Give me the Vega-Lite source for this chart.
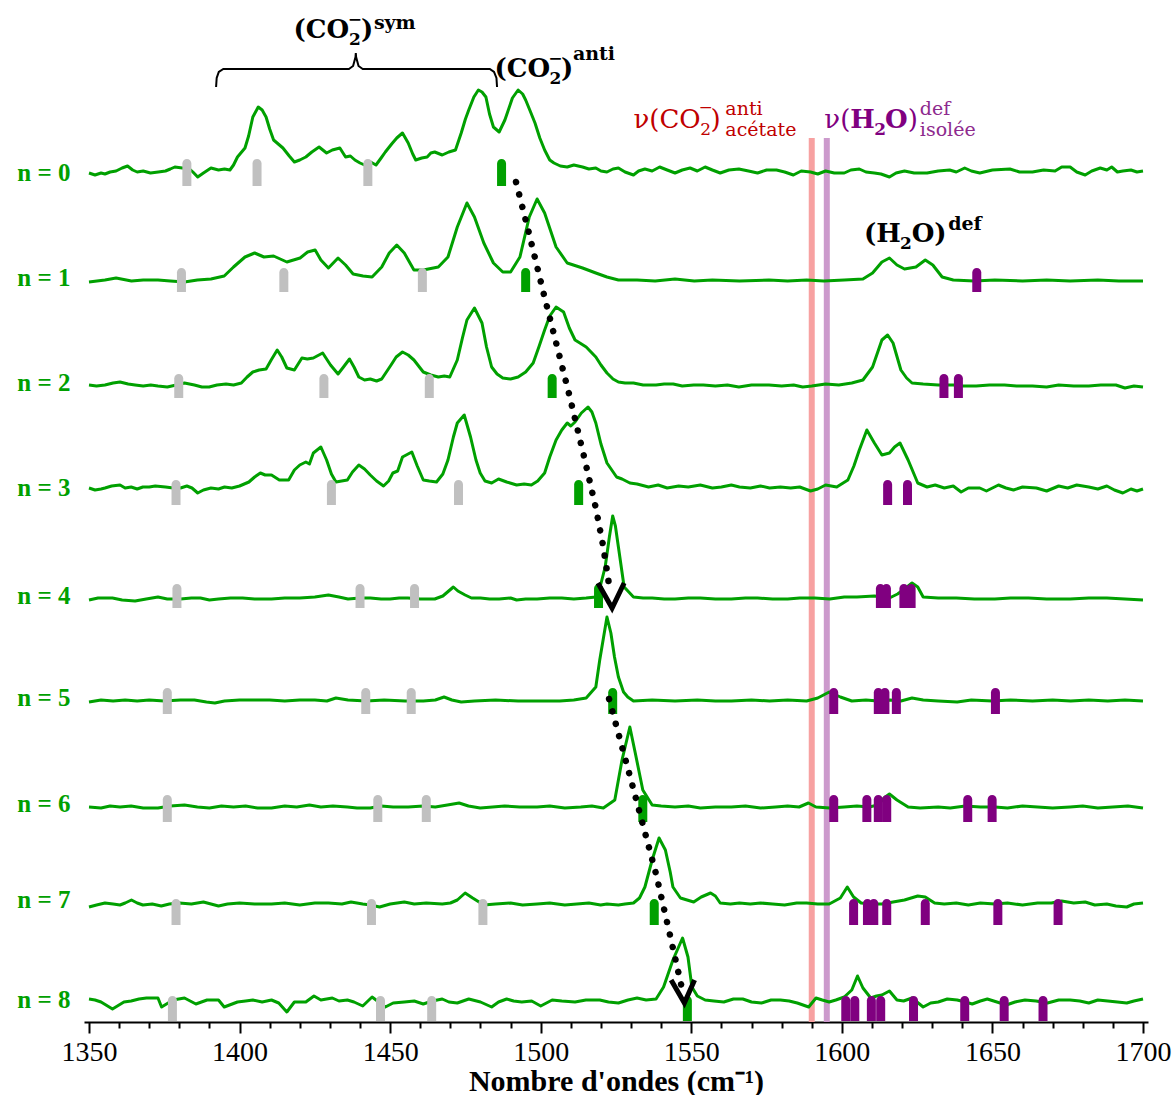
{
"$schema": "https://vega.github.io/schema/vega-lite/v6.json",
"width": 1064, "height": 1022,
"autosize": {"type": "none"},
"padding": {"left": 84, "top": 0, "right": 28, "bottom": 73},
"background": "white",
"config": {"view": {"stroke": null}},
"datasets": {
"spec": [
{"n":0,"x":1350,"y":849},{"n":0,"x":1352,"y":847},{"n":0,"x":1354,"y":849},{"n":0,"x":1355.3,"y":848},{"n":0,"x":1357,"y":850},{"n":0,"x":1359,"y":851},{"n":0,"x":1361,"y":854},{"n":0,"x":1362.8,"y":856},{"n":0,"x":1364.5,"y":852},{"n":0,"x":1366,"y":850},{"n":0,"x":1368,"y":851},{"n":0,"x":1370.4,"y":849},{"n":0,"x":1373,"y":850},{"n":0,"x":1375.4,"y":851},{"n":0,"x":1377,"y":853},{"n":0,"x":1378.5,"y":855},{"n":0,"x":1381,"y":854},{"n":0,"x":1383,"y":854},{"n":0,"x":1384.5,"y":850},{"n":0,"x":1386.1,"y":845},{"n":0,"x":1388,"y":849},{"n":0,"x":1390.5,"y":854},{"n":0,"x":1393,"y":852},{"n":0,"x":1395,"y":853},{"n":0,"x":1396.8,"y":852},{"n":0,"x":1398,"y":857},{"n":0,"x":1399.3,"y":865},{"n":0,"x":1401.8,"y":874},{"n":0,"x":1403,"y":886},{"n":0,"x":1404.4,"y":905},{"n":0,"x":1406.2,"y":915},{"n":0,"x":1407.5,"y":912},{"n":0,"x":1408.8,"y":905},{"n":0,"x":1410,"y":893},{"n":0,"x":1411.3,"y":882},{"n":0,"x":1414.4,"y":874},{"n":0,"x":1416.5,"y":866},{"n":0,"x":1418.2,"y":860},{"n":0,"x":1420,"y":862},{"n":0,"x":1422,"y":865},{"n":0,"x":1424,"y":870},{"n":0,"x":1426.4,"y":875},{"n":0,"x":1428.9,"y":869},{"n":0,"x":1430.8,"y":872},{"n":0,"x":1433.3,"y":874},{"n":0,"x":1435.2,"y":865},{"n":0,"x":1436.8,"y":866},{"n":0,"x":1438.3,"y":862},{"n":0,"x":1440,"y":859},{"n":0,"x":1441.5,"y":857},{"n":0,"x":1443.5,"y":860},{"n":0,"x":1445.3,"y":857},{"n":0,"x":1447,"y":864},{"n":0,"x":1448.4,"y":870},{"n":0,"x":1450.5,"y":878},{"n":0,"x":1452.2,"y":884},{"n":0,"x":1454.1,"y":889},{"n":0,"x":1456,"y":879},{"n":0,"x":1457.5,"y":868},{"n":0,"x":1458.5,"y":862},{"n":0,"x":1460.5,"y":864},{"n":0,"x":1462.3,"y":865},{"n":0,"x":1463.5,"y":869},{"n":0,"x":1464.8,"y":870},{"n":0,"x":1467.3,"y":867},{"n":0,"x":1469.5,"y":870},{"n":0,"x":1471.7,"y":872},{"n":0,"x":1473.6,"y":889},{"n":0,"x":1475,"y":903},{"n":0,"x":1476.1,"y":912},{"n":0,"x":1477.8,"y":925},{"n":0,"x":1479.3,"y":932},{"n":0,"x":1480.5,"y":930},{"n":0,"x":1481.8,"y":925},{"n":0,"x":1483,"y":908},{"n":0,"x":1484.3,"y":895},{"n":0,"x":1486.2,"y":890},{"n":0,"x":1488.1,"y":902},{"n":0,"x":1490.6,"y":924},{"n":0,"x":1492.5,"y":932},{"n":0,"x":1494,"y":928},{"n":0,"x":1495,"y":922},{"n":0,"x":1496.5,"y":911},{"n":0,"x":1498.1,"y":899},{"n":0,"x":1499.7,"y":884},{"n":0,"x":1501.3,"y":872},{"n":0,"x":1503,"y":862},{"n":0,"x":1504.4,"y":859},{"n":0,"x":1506.5,"y":856},{"n":0,"x":1508.8,"y":855},{"n":0,"x":1511,"y":857},{"n":0,"x":1513.9,"y":855},{"n":0,"x":1516,"y":853},{"n":0,"x":1518.3,"y":854},{"n":0,"x":1520,"y":851},{"n":0,"x":1522,"y":850},{"n":0,"x":1524,"y":853},{"n":0,"x":1525.8,"y":854},{"n":0,"x":1528,"y":850},{"n":0,"x":1530.8,"y":847},{"n":0,"x":1532.5,"y":851},{"n":0,"x":1534.6,"y":853},{"n":0,"x":1537,"y":851},{"n":0,"x":1539.5,"y":855},{"n":0,"x":1542,"y":852},{"n":0,"x":1544.6,"y":849},{"n":0,"x":1547,"y":852},{"n":0,"x":1549.6,"y":854},{"n":0,"x":1552,"y":851},{"n":0,"x":1554.6,"y":855},{"n":0,"x":1557,"y":852},{"n":0,"x":1559.6,"y":849},{"n":0,"x":1562.5,"y":852},{"n":0,"x":1565.8,"y":853},{"n":0,"x":1569,"y":851},{"n":0,"x":1572,"y":849},{"n":0,"x":1575,"y":852},{"n":0,"x":1578.3,"y":852},{"n":0,"x":1581,"y":850},{"n":0,"x":1583.9,"y":847},{"n":0,"x":1586.5,"y":851},{"n":0,"x":1589.6,"y":850},{"n":0,"x":1592,"y":848},{"n":0,"x":1594.6,"y":851},{"n":0,"x":1597.5,"y":849},{"n":0,"x":1600.8,"y":849},{"n":0,"x":1603,"y":852},{"n":0,"x":1605.8,"y":853},{"n":0,"x":1608,"y":850},{"n":0,"x":1610.8,"y":849},{"n":0,"x":1613,"y":848},{"n":0,"x":1615.8,"y":845},{"n":0,"x":1618,"y":849},{"n":0,"x":1620.8,"y":851},{"n":0,"x":1624,"y":849},{"n":0,"x":1628.3,"y":849},{"n":0,"x":1632,"y":851},{"n":0,"x":1635.8,"y":852},{"n":0,"x":1638,"y":850},{"n":0,"x":1640.8,"y":854},{"n":0,"x":1643,"y":851},{"n":0,"x":1645.8,"y":849},{"n":0,"x":1650,"y":852},{"n":0,"x":1655.8,"y":853},{"n":0,"x":1659,"y":850},{"n":0,"x":1663.3,"y":850},{"n":0,"x":1667,"y":852},{"n":0,"x":1670.8,"y":851},{"n":0,"x":1673,"y":855},{"n":0,"x":1675.8,"y":855},{"n":0,"x":1678,"y":850},{"n":0,"x":1680.8,"y":847},{"n":0,"x":1683,"y":851},{"n":0,"x":1685.8,"y":854},{"n":0,"x":1688,"y":852},{"n":0,"x":1689.6,"y":855},{"n":0,"x":1691.5,"y":850},{"n":0,"x":1693.3,"y":851},{"n":0,"x":1696,"y":852},{"n":0,"x":1698,"y":850},{"n":0,"x":1700,"y":851},
{"n":1,"x":1350,"y":740},{"n":1,"x":1355.3,"y":742},{"n":1,"x":1359,"y":744},{"n":1,"x":1364.1,"y":741},{"n":1,"x":1368,"y":742},{"n":1,"x":1372.9,"y":742},{"n":1,"x":1377,"y":741},{"n":1,"x":1381.7,"y":740},{"n":1,"x":1386,"y":742},{"n":1,"x":1390.5,"y":743},{"n":1,"x":1394.9,"y":746},{"n":1,"x":1398,"y":755},{"n":1,"x":1401.8,"y":765},{"n":1,"x":1405,"y":769},{"n":1,"x":1408.1,"y":765},{"n":1,"x":1411.3,"y":766},{"n":1,"x":1415.7,"y":760},{"n":1,"x":1420.1,"y":764},{"n":1,"x":1422.6,"y":770},{"n":1,"x":1425.1,"y":772},{"n":1,"x":1427,"y":762},{"n":1,"x":1429.5,"y":754},{"n":1,"x":1432.7,"y":764},{"n":1,"x":1435.2,"y":757},{"n":1,"x":1437.7,"y":748},{"n":1,"x":1441,"y":746},{"n":1,"x":1444,"y":745},{"n":1,"x":1447.2,"y":755},{"n":1,"x":1449.7,"y":769},{"n":1,"x":1452.2,"y":777},{"n":1,"x":1454.7,"y":769},{"n":1,"x":1457.9,"y":752},{"n":1,"x":1461,"y":752},{"n":1,"x":1466,"y":755},{"n":1,"x":1469.2,"y":765},{"n":1,"x":1472.3,"y":795},{"n":1,"x":1475.5,"y":819},{"n":1,"x":1478,"y":805},{"n":1,"x":1481.1,"y":779},{"n":1,"x":1484.3,"y":759},{"n":1,"x":1487.4,"y":750},{"n":1,"x":1490,"y":750},{"n":1,"x":1493.1,"y":765},{"n":1,"x":1496.2,"y":805},{"n":1,"x":1498.8,"y":823},{"n":1,"x":1501.3,"y":809},{"n":1,"x":1505.1,"y":775},{"n":1,"x":1508.8,"y":759},{"n":1,"x":1513.9,"y":754},{"n":1,"x":1518.3,"y":749},{"n":1,"x":1522,"y":745},{"n":1,"x":1525.8,"y":742},{"n":1,"x":1532,"y":742},{"n":1,"x":1538,"y":741},{"n":1,"x":1544.6,"y":743},{"n":1,"x":1551,"y":741},{"n":1,"x":1557,"y":742},{"n":1,"x":1566,"y":741},{"n":1,"x":1575.8,"y":742},{"n":1,"x":1582,"y":741},{"n":1,"x":1588.3,"y":742},{"n":1,"x":1594,"y":741},{"n":1,"x":1600.8,"y":742},{"n":1,"x":1607,"y":743},{"n":1,"x":1610.2,"y":749},{"n":1,"x":1613.3,"y":760},{"n":1,"x":1615.8,"y":764},{"n":1,"x":1618.3,"y":757},{"n":1,"x":1620.8,"y":753},{"n":1,"x":1624.6,"y":755},{"n":1,"x":1627.7,"y":762},{"n":1,"x":1630.2,"y":757},{"n":1,"x":1633.3,"y":745},{"n":1,"x":1637,"y":742},{"n":1,"x":1644,"y":741},{"n":1,"x":1650.8,"y":742},{"n":1,"x":1660,"y":741},{"n":1,"x":1668,"y":742},{"n":1,"x":1675.8,"y":741},{"n":1,"x":1685,"y":742},{"n":1,"x":1692,"y":741},{"n":1,"x":1700,"y":741},
{"n":2,"x":1350,"y":637},{"n":2,"x":1352.5,"y":636},{"n":2,"x":1355.3,"y":637},{"n":2,"x":1358,"y":639},{"n":2,"x":1360.3,"y":640},{"n":2,"x":1363,"y":638},{"n":2,"x":1365.3,"y":637},{"n":2,"x":1368,"y":636},{"n":2,"x":1370.5,"y":637},{"n":2,"x":1372.9,"y":636},{"n":2,"x":1376,"y":635},{"n":2,"x":1379,"y":637},{"n":2,"x":1381.7,"y":639},{"n":2,"x":1385,"y":637},{"n":2,"x":1387.5,"y":635},{"n":2,"x":1389.9,"y":635},{"n":2,"x":1392.5,"y":637},{"n":2,"x":1395.5,"y":638},{"n":2,"x":1398,"y":637},{"n":2,"x":1400.6,"y":639},{"n":2,"x":1402.5,"y":645},{"n":2,"x":1404.4,"y":650},{"n":2,"x":1406.5,"y":652},{"n":2,"x":1408.8,"y":653},{"n":2,"x":1410.5,"y":662},{"n":2,"x":1412.5,"y":672},{"n":2,"x":1414,"y":665},{"n":2,"x":1415.7,"y":654},{"n":2,"x":1418.2,"y":652},{"n":2,"x":1420.7,"y":664},{"n":2,"x":1422.5,"y":663},{"n":2,"x":1424.5,"y":664},{"n":2,"x":1427.6,"y":669},{"n":2,"x":1430.2,"y":657},{"n":2,"x":1432.7,"y":648},{"n":2,"x":1434.5,"y":655},{"n":2,"x":1436.5,"y":663},{"n":2,"x":1438,"y":655},{"n":2,"x":1439.6,"y":645},{"n":2,"x":1441.5,"y":642},{"n":2,"x":1443.4,"y":643},{"n":2,"x":1445.5,"y":641},{"n":2,"x":1447.2,"y":643},{"n":2,"x":1450.3,"y":657},{"n":2,"x":1452,"y":665},{"n":2,"x":1454.1,"y":670},{"n":2,"x":1456,"y":667},{"n":2,"x":1457.9,"y":662},{"n":2,"x":1461,"y":650},{"n":2,"x":1463.5,"y":647},{"n":2,"x":1466,"y":645},{"n":2,"x":1468,"y":646},{"n":2,"x":1469.8,"y":645},{"n":2,"x":1472.3,"y":662},{"n":2,"x":1474,"y":684},{"n":2,"x":1475.5,"y":702},{"n":2,"x":1478,"y":714},{"n":2,"x":1480.5,"y":699},{"n":2,"x":1482,"y":675},{"n":2,"x":1483.7,"y":655},{"n":2,"x":1485.5,"y":648},{"n":2,"x":1487.4,"y":644},{"n":2,"x":1490,"y":643},{"n":2,"x":1492.5,"y":645},{"n":2,"x":1495,"y":650},{"n":2,"x":1497.5,"y":659},{"n":2,"x":1499.5,"y":676},{"n":2,"x":1501.3,"y":692},{"n":2,"x":1503,"y":706},{"n":2,"x":1505.1,"y":715},{"n":2,"x":1507.6,"y":710},{"n":2,"x":1509.5,"y":694},{"n":2,"x":1511.4,"y":682},{"n":2,"x":1513,"y":679},{"n":2,"x":1515.1,"y":675},{"n":2,"x":1518.3,"y":665},{"n":2,"x":1520,"y":657},{"n":2,"x":1522,"y":649},{"n":2,"x":1524,"y":643},{"n":2,"x":1525.8,"y":640},{"n":2,"x":1528,"y":639},{"n":2,"x":1530.8,"y":639},{"n":2,"x":1534,"y":637},{"n":2,"x":1538.3,"y":637},{"n":2,"x":1541,"y":638},{"n":2,"x":1544,"y":638},{"n":2,"x":1547,"y":636},{"n":2,"x":1550.8,"y":637},{"n":2,"x":1554,"y":637},{"n":2,"x":1558,"y":636},{"n":2,"x":1562,"y":637},{"n":2,"x":1565.8,"y":635},{"n":2,"x":1570,"y":637},{"n":2,"x":1575.8,"y":637},{"n":2,"x":1580,"y":636},{"n":2,"x":1584,"y":637},{"n":2,"x":1587,"y":635},{"n":2,"x":1590,"y":636},{"n":2,"x":1594.6,"y":638},{"n":2,"x":1599,"y":637},{"n":2,"x":1603.3,"y":639},{"n":2,"x":1607,"y":642},{"n":2,"x":1610.2,"y":655},{"n":2,"x":1613.3,"y":682},{"n":2,"x":1615.2,"y":687},{"n":2,"x":1617,"y":679},{"n":2,"x":1619.6,"y":652},{"n":2,"x":1621.5,"y":644},{"n":2,"x":1623.3,"y":639},{"n":2,"x":1627,"y":638},{"n":2,"x":1632,"y":637},{"n":2,"x":1637,"y":637},{"n":2,"x":1640,"y":636},{"n":2,"x":1644.6,"y":636},{"n":2,"x":1649,"y":637},{"n":2,"x":1654,"y":637},{"n":2,"x":1658,"y":636},{"n":2,"x":1663.3,"y":636},{"n":2,"x":1668,"y":635},{"n":2,"x":1672,"y":637},{"n":2,"x":1677,"y":636},{"n":2,"x":1682,"y":636},{"n":2,"x":1686,"y":637},{"n":2,"x":1691,"y":637},{"n":2,"x":1694,"y":634},{"n":2,"x":1697,"y":636},{"n":2,"x":1700,"y":635},
{"n":3,"x":1350,"y":534},{"n":3,"x":1352,"y":532},{"n":3,"x":1354,"y":533},{"n":3,"x":1355.3,"y":534},{"n":3,"x":1357.5,"y":536},{"n":3,"x":1360.3,"y":537},{"n":3,"x":1362,"y":534},{"n":3,"x":1364,"y":535},{"n":3,"x":1366,"y":533},{"n":3,"x":1367.9,"y":535},{"n":3,"x":1370,"y":535},{"n":3,"x":1372,"y":536},{"n":3,"x":1375.4,"y":535},{"n":3,"x":1378,"y":534},{"n":3,"x":1380.4,"y":534},{"n":3,"x":1382.5,"y":536},{"n":3,"x":1384.2,"y":534},{"n":3,"x":1386.1,"y":529},{"n":3,"x":1388,"y":532},{"n":3,"x":1390.5,"y":534},{"n":3,"x":1393,"y":533},{"n":3,"x":1395,"y":535},{"n":3,"x":1397.4,"y":534},{"n":3,"x":1400,"y":536},{"n":3,"x":1403.1,"y":540},{"n":3,"x":1405,"y":545},{"n":3,"x":1406.9,"y":549},{"n":3,"x":1408.5,"y":547},{"n":3,"x":1410.6,"y":547},{"n":3,"x":1413.2,"y":542},{"n":3,"x":1416.3,"y":542},{"n":3,"x":1418.2,"y":552},{"n":3,"x":1420,"y":557},{"n":3,"x":1422,"y":560},{"n":3,"x":1423.2,"y":558},{"n":3,"x":1424.5,"y":569},{"n":3,"x":1427,"y":575},{"n":3,"x":1428.9,"y":562},{"n":3,"x":1430.5,"y":548},{"n":3,"x":1432,"y":540},{"n":3,"x":1435.8,"y":542},{"n":3,"x":1437.5,"y":550},{"n":3,"x":1439.6,"y":557},{"n":3,"x":1441.5,"y":553},{"n":3,"x":1443.4,"y":547},{"n":3,"x":1445.5,"y":541},{"n":3,"x":1447.8,"y":536},{"n":3,"x":1449.5,"y":541},{"n":3,"x":1450.9,"y":549},{"n":3,"x":1452.5,"y":551},{"n":3,"x":1454.1,"y":565},{"n":3,"x":1457.2,"y":570},{"n":3,"x":1459,"y":556},{"n":3,"x":1461,"y":542},{"n":3,"x":1463,"y":541},{"n":3,"x":1465.4,"y":540},{"n":3,"x":1467.5,"y":548},{"n":3,"x":1469.2,"y":562},{"n":3,"x":1471,"y":585},{"n":3,"x":1472.3,"y":599},{"n":3,"x":1474.6,"y":607},{"n":3,"x":1476.7,"y":585},{"n":3,"x":1478.5,"y":562},{"n":3,"x":1479.9,"y":549},{"n":3,"x":1481.5,"y":541},{"n":3,"x":1483.7,"y":539},{"n":3,"x":1486,"y":543},{"n":3,"x":1488.7,"y":540},{"n":3,"x":1492,"y":537},{"n":3,"x":1494.5,"y":538},{"n":3,"x":1496.9,"y":537},{"n":3,"x":1499,"y":541},{"n":3,"x":1501.3,"y":549},{"n":3,"x":1503,"y":565},{"n":3,"x":1505.1,"y":582},{"n":3,"x":1507,"y":592},{"n":3,"x":1508.8,"y":599},{"n":3,"x":1510,"y":596},{"n":3,"x":1511.4,"y":600},{"n":3,"x":1513.5,"y":609},{"n":3,"x":1515.7,"y":615},{"n":3,"x":1517,"y":610},{"n":3,"x":1518.3,"y":599},{"n":3,"x":1520,"y":578},{"n":3,"x":1522,"y":559},{"n":3,"x":1525.2,"y":545},{"n":3,"x":1527,"y":543},{"n":3,"x":1529.6,"y":539},{"n":3,"x":1532,"y":538},{"n":3,"x":1535.8,"y":535},{"n":3,"x":1539,"y":537},{"n":3,"x":1542,"y":534},{"n":3,"x":1545.8,"y":536},{"n":3,"x":1549,"y":535},{"n":3,"x":1553,"y":537},{"n":3,"x":1557,"y":534},{"n":3,"x":1560,"y":535},{"n":3,"x":1563.3,"y":537},{"n":3,"x":1566,"y":535},{"n":3,"x":1569.6,"y":534},{"n":3,"x":1573,"y":536},{"n":3,"x":1576,"y":534},{"n":3,"x":1579.6,"y":535},{"n":3,"x":1583,"y":534},{"n":3,"x":1586,"y":535},{"n":3,"x":1589.6,"y":531},{"n":3,"x":1592,"y":533},{"n":3,"x":1594.6,"y":537},{"n":3,"x":1598.3,"y":535},{"n":3,"x":1602,"y":542},{"n":3,"x":1604,"y":556},{"n":3,"x":1605.8,"y":572},{"n":3,"x":1608.3,"y":592},{"n":3,"x":1610.8,"y":579},{"n":3,"x":1613.3,"y":567},{"n":3,"x":1615.8,"y":569},{"n":3,"x":1617.5,"y":575},{"n":3,"x":1619.3,"y":579},{"n":3,"x":1622,"y":562},{"n":3,"x":1625.2,"y":539},{"n":3,"x":1628.3,"y":535},{"n":3,"x":1631,"y":537},{"n":3,"x":1634,"y":534},{"n":3,"x":1637,"y":536},{"n":3,"x":1639.6,"y":530},{"n":3,"x":1642,"y":534},{"n":3,"x":1645.8,"y":534},{"n":3,"x":1648,"y":531},{"n":3,"x":1652,"y":537},{"n":3,"x":1654.5,"y":534},{"n":3,"x":1657,"y":532},{"n":3,"x":1660,"y":535},{"n":3,"x":1664.6,"y":534},{"n":3,"x":1668,"y":531},{"n":3,"x":1672,"y":536},{"n":3,"x":1675,"y":534},{"n":3,"x":1678,"y":537},{"n":3,"x":1682,"y":535},{"n":3,"x":1685,"y":533},{"n":3,"x":1688,"y":536},{"n":3,"x":1690.5,"y":532},{"n":3,"x":1693.3,"y":529},{"n":3,"x":1696,"y":533},{"n":3,"x":1698,"y":531},{"n":3,"x":1700,"y":533},
{"n":4,"x":1350,"y":422},{"n":4,"x":1353,"y":424},{"n":4,"x":1357.8,"y":424},{"n":4,"x":1361,"y":422},{"n":4,"x":1365.3,"y":421},{"n":4,"x":1369,"y":423},{"n":4,"x":1372.9,"y":425},{"n":4,"x":1376,"y":423},{"n":4,"x":1380.4,"y":423},{"n":4,"x":1384,"y":424},{"n":4,"x":1387,"y":424},{"n":4,"x":1390,"y":422},{"n":4,"x":1393,"y":423},{"n":4,"x":1397,"y":424},{"n":4,"x":1401,"y":424},{"n":4,"x":1405,"y":423},{"n":4,"x":1410.6,"y":423},{"n":4,"x":1415,"y":424},{"n":4,"x":1420,"y":424},{"n":4,"x":1425,"y":425},{"n":4,"x":1429.5,"y":427},{"n":4,"x":1433,"y":425},{"n":4,"x":1436,"y":423},{"n":4,"x":1440,"y":424},{"n":4,"x":1443.4,"y":424},{"n":4,"x":1447,"y":423},{"n":4,"x":1450,"y":423},{"n":4,"x":1453,"y":424},{"n":4,"x":1455.9,"y":424},{"n":4,"x":1460,"y":423},{"n":4,"x":1464.8,"y":423},{"n":4,"x":1467.5,"y":426},{"n":4,"x":1471,"y":435},{"n":4,"x":1472.5,"y":431},{"n":4,"x":1474.9,"y":427},{"n":4,"x":1477,"y":424},{"n":4,"x":1480,"y":424},{"n":4,"x":1483,"y":423},{"n":4,"x":1486.2,"y":423},{"n":4,"x":1490,"y":424},{"n":4,"x":1492,"y":422},{"n":4,"x":1495,"y":423},{"n":4,"x":1498.8,"y":423},{"n":4,"x":1503,"y":424},{"n":4,"x":1507,"y":424},{"n":4,"x":1511,"y":423},{"n":4,"x":1515.1,"y":424},{"n":4,"x":1518.3,"y":425},{"n":4,"x":1519.8,"y":436},{"n":4,"x":1521.4,"y":455},{"n":4,"x":1522.8,"y":485},{"n":4,"x":1523.9,"y":506},{"n":4,"x":1524.8,"y":496},{"n":4,"x":1525.8,"y":475},{"n":4,"x":1527.7,"y":435},{"n":4,"x":1530.8,"y":425},{"n":4,"x":1534,"y":424},{"n":4,"x":1537,"y":424},{"n":4,"x":1541,"y":423},{"n":4,"x":1544.6,"y":423},{"n":4,"x":1549,"y":424},{"n":4,"x":1553,"y":424},{"n":4,"x":1558,"y":423},{"n":4,"x":1563.3,"y":423},{"n":4,"x":1568,"y":424},{"n":4,"x":1572,"y":424},{"n":4,"x":1577,"y":423},{"n":4,"x":1582,"y":423},{"n":4,"x":1586,"y":424},{"n":4,"x":1591,"y":424},{"n":4,"x":1596,"y":423},{"n":4,"x":1600.8,"y":425},{"n":4,"x":1605,"y":425},{"n":4,"x":1610.8,"y":426},{"n":4,"x":1615.8,"y":424},{"n":4,"x":1618.5,"y":428},{"n":4,"x":1620.8,"y":433},{"n":4,"x":1623.3,"y":439},{"n":4,"x":1625.2,"y":435},{"n":4,"x":1627,"y":425},{"n":4,"x":1632,"y":424},{"n":4,"x":1638,"y":424},{"n":4,"x":1644,"y":423},{"n":4,"x":1650.8,"y":423},{"n":4,"x":1656,"y":424},{"n":4,"x":1662,"y":424},{"n":4,"x":1668,"y":423},{"n":4,"x":1675.8,"y":423},{"n":4,"x":1682,"y":424},{"n":4,"x":1688,"y":424},{"n":4,"x":1694,"y":423},{"n":4,"x":1700,"y":422},
{"n":5,"x":1350,"y":320},{"n":5,"x":1354,"y":322},{"n":5,"x":1358,"y":321},{"n":5,"x":1362,"y":322},{"n":5,"x":1366,"y":321},{"n":5,"x":1370,"y":322},{"n":5,"x":1375,"y":321},{"n":5,"x":1380.4,"y":322},{"n":5,"x":1385,"y":322},{"n":5,"x":1389,"y":320},{"n":5,"x":1391.8,"y":319},{"n":5,"x":1395,"y":321},{"n":5,"x":1400,"y":322},{"n":5,"x":1404.4,"y":322},{"n":5,"x":1410,"y":322},{"n":5,"x":1415,"y":321},{"n":5,"x":1420,"y":322},{"n":5,"x":1425,"y":322},{"n":5,"x":1429,"y":321},{"n":5,"x":1432,"y":324},{"n":5,"x":1436,"y":322},{"n":5,"x":1442.1,"y":321},{"n":5,"x":1448,"y":322},{"n":5,"x":1455,"y":321},{"n":5,"x":1461,"y":321},{"n":5,"x":1465,"y":322},{"n":5,"x":1467.9,"y":325},{"n":5,"x":1470.5,"y":322},{"n":5,"x":1473.6,"y":320},{"n":5,"x":1478,"y":321},{"n":5,"x":1485,"y":322},{"n":5,"x":1492.5,"y":321},{"n":5,"x":1500,"y":321},{"n":5,"x":1506.3,"y":321},{"n":5,"x":1511,"y":322},{"n":5,"x":1515.1,"y":324},{"n":5,"x":1518.3,"y":335},{"n":5,"x":1519.6,"y":362},{"n":5,"x":1522,"y":405},{"n":5,"x":1523.3,"y":389},{"n":5,"x":1524.5,"y":365},{"n":5,"x":1525.8,"y":345},{"n":5,"x":1527.5,"y":330},{"n":5,"x":1528.9,"y":325},{"n":5,"x":1530.8,"y":321},{"n":5,"x":1537,"y":322},{"n":5,"x":1544.6,"y":321},{"n":5,"x":1552,"y":322},{"n":5,"x":1558,"y":321},{"n":5,"x":1563.3,"y":321},{"n":5,"x":1570,"y":322},{"n":5,"x":1576,"y":321},{"n":5,"x":1582,"y":322},{"n":5,"x":1588.3,"y":321},{"n":5,"x":1592,"y":324},{"n":5,"x":1595.8,"y":330},{"n":5,"x":1599.5,"y":325},{"n":5,"x":1603.3,"y":321},{"n":5,"x":1608,"y":322},{"n":5,"x":1612,"y":321},{"n":5,"x":1616,"y":322},{"n":5,"x":1619.6,"y":321},{"n":5,"x":1623.3,"y":324},{"n":5,"x":1627,"y":322},{"n":5,"x":1632,"y":321},{"n":5,"x":1638.3,"y":320},{"n":5,"x":1643,"y":322},{"n":5,"x":1650,"y":321},{"n":5,"x":1656,"y":322},{"n":5,"x":1663.3,"y":321},{"n":5,"x":1670,"y":322},{"n":5,"x":1676,"y":321},{"n":5,"x":1682,"y":322},{"n":5,"x":1688.3,"y":321},{"n":5,"x":1694,"y":322},{"n":5,"x":1700,"y":321},
{"n":6,"x":1350,"y":215},{"n":6,"x":1354,"y":214},{"n":6,"x":1357,"y":216},{"n":6,"x":1360.3,"y":215},{"n":6,"x":1364,"y":216},{"n":6,"x":1368,"y":214},{"n":6,"x":1372.9,"y":214},{"n":6,"x":1377,"y":216},{"n":6,"x":1381.7,"y":217},{"n":6,"x":1386,"y":215},{"n":6,"x":1390,"y":214},{"n":6,"x":1394,"y":216},{"n":6,"x":1398,"y":215},{"n":6,"x":1402,"y":216},{"n":6,"x":1406,"y":214},{"n":6,"x":1410.6,"y":214},{"n":6,"x":1415,"y":216},{"n":6,"x":1419,"y":215},{"n":6,"x":1423.2,"y":217},{"n":6,"x":1427,"y":215},{"n":6,"x":1431,"y":216},{"n":6,"x":1435.8,"y":215},{"n":6,"x":1439,"y":214},{"n":6,"x":1443.4,"y":214},{"n":6,"x":1447,"y":216},{"n":6,"x":1451,"y":215},{"n":6,"x":1456,"y":215},{"n":6,"x":1461,"y":216},{"n":6,"x":1465,"y":215},{"n":6,"x":1469,"y":217},{"n":6,"x":1472.9,"y":219},{"n":6,"x":1476,"y":216},{"n":6,"x":1479.9,"y":214},{"n":6,"x":1484,"y":215},{"n":6,"x":1488,"y":216},{"n":6,"x":1493,"y":215},{"n":6,"x":1498.8,"y":215},{"n":6,"x":1503,"y":216},{"n":6,"x":1508,"y":214},{"n":6,"x":1513.3,"y":215},{"n":6,"x":1517,"y":216},{"n":6,"x":1520.8,"y":214},{"n":6,"x":1524.6,"y":222},{"n":6,"x":1527,"y":262},{"n":6,"x":1529.6,"y":295},{"n":6,"x":1531.4,"y":269},{"n":6,"x":1533.9,"y":232},{"n":6,"x":1537,"y":217},{"n":6,"x":1540,"y":216},{"n":6,"x":1544.6,"y":215},{"n":6,"x":1549,"y":216},{"n":6,"x":1553,"y":214},{"n":6,"x":1558,"y":215},{"n":6,"x":1563.3,"y":215},{"n":6,"x":1568,"y":216},{"n":6,"x":1573,"y":214},{"n":6,"x":1578,"y":215},{"n":6,"x":1582,"y":216},{"n":6,"x":1585.8,"y":215},{"n":6,"x":1588.9,"y":219},{"n":6,"x":1591.4,"y":215},{"n":6,"x":1596,"y":214},{"n":6,"x":1600.8,"y":215},{"n":6,"x":1605,"y":216},{"n":6,"x":1609,"y":215},{"n":6,"x":1612.1,"y":217},{"n":6,"x":1614,"y":224},{"n":6,"x":1615.8,"y":228},{"n":6,"x":1618.3,"y":222},{"n":6,"x":1622,"y":215},{"n":6,"x":1626,"y":214},{"n":6,"x":1632,"y":215},{"n":6,"x":1636,"y":214},{"n":6,"x":1641,"y":216},{"n":6,"x":1646,"y":215},{"n":6,"x":1650.8,"y":215},{"n":6,"x":1655,"y":214},{"n":6,"x":1660,"y":216},{"n":6,"x":1665,"y":215},{"n":6,"x":1670,"y":214},{"n":6,"x":1675.8,"y":215},{"n":6,"x":1680,"y":216},{"n":6,"x":1685,"y":214},{"n":6,"x":1690,"y":215},{"n":6,"x":1695,"y":216},{"n":6,"x":1700,"y":214},
{"n":7,"x":1350,"y":115},{"n":7,"x":1352.5,"y":117},{"n":7,"x":1355.3,"y":119},{"n":7,"x":1358,"y":118},{"n":7,"x":1360.3,"y":117},{"n":7,"x":1362,"y":119},{"n":7,"x":1364.1,"y":122},{"n":7,"x":1366,"y":119},{"n":7,"x":1367.9,"y":117},{"n":7,"x":1371,"y":118},{"n":7,"x":1374,"y":116},{"n":7,"x":1376.7,"y":118},{"n":7,"x":1380,"y":119},{"n":7,"x":1384,"y":118},{"n":7,"x":1388,"y":120},{"n":7,"x":1390.5,"y":118},{"n":7,"x":1393,"y":116},{"n":7,"x":1396,"y":118},{"n":7,"x":1400,"y":119},{"n":7,"x":1405,"y":118},{"n":7,"x":1410.6,"y":118},{"n":7,"x":1415,"y":119},{"n":7,"x":1420,"y":117},{"n":7,"x":1425,"y":119},{"n":7,"x":1429.5,"y":119},{"n":7,"x":1434,"y":118},{"n":7,"x":1437,"y":120},{"n":7,"x":1440.9,"y":118},{"n":7,"x":1443.5,"y":117},{"n":7,"x":1446.5,"y":115},{"n":7,"x":1450,"y":118},{"n":7,"x":1454.7,"y":120},{"n":7,"x":1458,"y":118},{"n":7,"x":1462,"y":119},{"n":7,"x":1467.3,"y":118},{"n":7,"x":1470,"y":119},{"n":7,"x":1472.3,"y":122},{"n":7,"x":1474.9,"y":129},{"n":7,"x":1477.4,"y":124},{"n":7,"x":1481.1,"y":117},{"n":7,"x":1485,"y":118},{"n":7,"x":1490,"y":119},{"n":7,"x":1494,"y":117},{"n":7,"x":1498.8,"y":118},{"n":7,"x":1503,"y":119},{"n":7,"x":1508,"y":117},{"n":7,"x":1512,"y":118},{"n":7,"x":1516,"y":119},{"n":7,"x":1519.9,"y":117},{"n":7,"x":1522,"y":118},{"n":7,"x":1525.8,"y":117},{"n":7,"x":1528,"y":118},{"n":7,"x":1530.8,"y":119},{"n":7,"x":1532.8,"y":124},{"n":7,"x":1534.6,"y":135},{"n":7,"x":1537,"y":162},{"n":7,"x":1539.3,"y":184},{"n":7,"x":1541.4,"y":172},{"n":7,"x":1543,"y":150},{"n":7,"x":1543.9,"y":135},{"n":7,"x":1546.4,"y":124},{"n":7,"x":1550.8,"y":120},{"n":7,"x":1553.3,"y":125},{"n":7,"x":1556.4,"y":129},{"n":7,"x":1558,"y":126},{"n":7,"x":1559.6,"y":119},{"n":7,"x":1563,"y":118},{"n":7,"x":1566,"y":119},{"n":7,"x":1569.6,"y":118},{"n":7,"x":1573,"y":119},{"n":7,"x":1577,"y":118},{"n":7,"x":1581,"y":117},{"n":7,"x":1585,"y":119},{"n":7,"x":1588.3,"y":119},{"n":7,"x":1592,"y":118},{"n":7,"x":1595.8,"y":118},{"n":7,"x":1599.5,"y":124},{"n":7,"x":1601.8,"y":135},{"n":7,"x":1603.9,"y":125},{"n":7,"x":1606.4,"y":119},{"n":7,"x":1610,"y":118},{"n":7,"x":1613.3,"y":118},{"n":7,"x":1617,"y":120},{"n":7,"x":1620.8,"y":122},{"n":7,"x":1625.2,"y":126},{"n":7,"x":1627.7,"y":125},{"n":7,"x":1630.8,"y":119},{"n":7,"x":1634,"y":118},{"n":7,"x":1638,"y":119},{"n":7,"x":1642,"y":117},{"n":7,"x":1646,"y":119},{"n":7,"x":1650.8,"y":118},{"n":7,"x":1655,"y":119},{"n":7,"x":1660,"y":117},{"n":7,"x":1665,"y":119},{"n":7,"x":1669.6,"y":119},{"n":7,"x":1673,"y":121},{"n":7,"x":1677,"y":119},{"n":7,"x":1680.8,"y":120},{"n":7,"x":1684,"y":117},{"n":7,"x":1688,"y":118},{"n":7,"x":1691,"y":116},{"n":7,"x":1694.6,"y":115},{"n":7,"x":1697,"y":118},{"n":7,"x":1700,"y":119},
{"n":8,"x":1350,"y":23},{"n":8,"x":1352,"y":22},{"n":8,"x":1354,"y":20},{"n":8,"x":1357.8,"y":13},{"n":8,"x":1361.6,"y":20},{"n":8,"x":1364,"y":21},{"n":8,"x":1366.6,"y":23},{"n":8,"x":1369.1,"y":24},{"n":8,"x":1372.9,"y":24},{"n":8,"x":1374.1,"y":15},{"n":8,"x":1377.9,"y":22},{"n":8,"x":1381.7,"y":24},{"n":8,"x":1385.5,"y":18},{"n":8,"x":1389.2,"y":22},{"n":8,"x":1393,"y":22},{"n":8,"x":1394.9,"y":15},{"n":8,"x":1399.3,"y":20},{"n":8,"x":1402,"y":21},{"n":8,"x":1404.4,"y":22},{"n":8,"x":1407.5,"y":20},{"n":8,"x":1410.6,"y":22},{"n":8,"x":1413,"y":19},{"n":8,"x":1415.7,"y":10},{"n":8,"x":1418.2,"y":20},{"n":8,"x":1422,"y":20},{"n":8,"x":1424.7,"y":26},{"n":8,"x":1427,"y":22},{"n":8,"x":1430.8,"y":24},{"n":8,"x":1433,"y":21},{"n":8,"x":1435.8,"y":22},{"n":8,"x":1438,"y":20},{"n":8,"x":1440.9,"y":16},{"n":8,"x":1444,"y":25},{"n":8,"x":1448.4,"y":15},{"n":8,"x":1451,"y":19},{"n":8,"x":1454.7,"y":20},{"n":8,"x":1458,"y":21},{"n":8,"x":1461,"y":18},{"n":8,"x":1464,"y":21},{"n":8,"x":1467.3,"y":23},{"n":8,"x":1469.5,"y":20},{"n":8,"x":1472.3,"y":19},{"n":8,"x":1476.1,"y":23},{"n":8,"x":1480,"y":20},{"n":8,"x":1483.7,"y":15},{"n":8,"x":1486,"y":20},{"n":8,"x":1488.7,"y":23},{"n":8,"x":1491,"y":21},{"n":8,"x":1493.7,"y":20},{"n":8,"x":1497,"y":21},{"n":8,"x":1500,"y":16},{"n":8,"x":1503.8,"y":22},{"n":8,"x":1507,"y":21},{"n":8,"x":1511.4,"y":20},{"n":8,"x":1515,"y":22},{"n":8,"x":1519.6,"y":22},{"n":8,"x":1522.5,"y":20},{"n":8,"x":1525.8,"y":19},{"n":8,"x":1529,"y":22},{"n":8,"x":1532,"y":24},{"n":8,"x":1535,"y":22},{"n":8,"x":1538.3,"y":23},{"n":8,"x":1540.8,"y":35},{"n":8,"x":1543.9,"y":62},{"n":8,"x":1547.1,"y":84},{"n":8,"x":1548.9,"y":65},{"n":8,"x":1550.2,"y":35},{"n":8,"x":1552,"y":26},{"n":8,"x":1554.6,"y":22},{"n":8,"x":1557.5,"y":21},{"n":8,"x":1560.8,"y":20},{"n":8,"x":1564,"y":23},{"n":8,"x":1567.1,"y":23},{"n":8,"x":1570,"y":20},{"n":8,"x":1573.3,"y":19},{"n":8,"x":1576.5,"y":22},{"n":8,"x":1579.6,"y":22},{"n":8,"x":1582.5,"y":21},{"n":8,"x":1585.2,"y":19},{"n":8,"x":1589,"y":15},{"n":8,"x":1591.4,"y":24},{"n":8,"x":1593.5,"y":22},{"n":8,"x":1595.8,"y":20},{"n":8,"x":1598,"y":22},{"n":8,"x":1600.8,"y":25},{"n":8,"x":1603.3,"y":32},{"n":8,"x":1605.2,"y":46},{"n":8,"x":1607,"y":34},{"n":8,"x":1609.6,"y":24},{"n":8,"x":1611.5,"y":26},{"n":8,"x":1613.3,"y":27},{"n":8,"x":1615.8,"y":31},{"n":8,"x":1618.3,"y":22},{"n":8,"x":1620.5,"y":21},{"n":8,"x":1623.3,"y":24},{"n":8,"x":1627,"y":15},{"n":8,"x":1629.5,"y":19},{"n":8,"x":1632,"y":20},{"n":8,"x":1635,"y":23},{"n":8,"x":1638.3,"y":22},{"n":8,"x":1641,"y":20},{"n":8,"x":1643.3,"y":18},{"n":8,"x":1646,"y":21},{"n":8,"x":1648.3,"y":23},{"n":8,"x":1651.5,"y":20},{"n":8,"x":1654.6,"y":17},{"n":8,"x":1657.5,"y":20},{"n":8,"x":1660.8,"y":22},{"n":8,"x":1664.5,"y":21},{"n":8,"x":1668.3,"y":19},{"n":8,"x":1672,"y":22},{"n":8,"x":1675.8,"y":22},{"n":8,"x":1679,"y":21},{"n":8,"x":1682,"y":19},{"n":8,"x":1685,"y":22},{"n":8,"x":1688.3,"y":21},{"n":8,"x":1691.5,"y":20},{"n":8,"x":1694.6,"y":19},{"n":8,"x":1697,"y":21},{"n":8,"x":1700,"y":23}
],
"sticks": [
{"x":1382.5,"y":836,"y2":863,"kind":"gray"},{"x":1405.8,"y":836,"y2":863,"kind":"gray"},{"x":1442.6,"y":836,"y2":863,"kind":"gray"},{"x":1487,"y":836,"y2":863,"kind":"green"},
{"x":1380.7,"y":730,"y2":754,"kind":"gray"},{"x":1414.7,"y":730,"y2":754,"kind":"gray"},{"x":1460.7,"y":730,"y2":754,"kind":"gray"},{"x":1495,"y":730,"y2":754,"kind":"green"},{"x":1644.8,"y":730,"y2":754,"kind":"purple"},
{"x":1379.8,"y":624,"y2":648,"kind":"gray"},{"x":1428,"y":624,"y2":648,"kind":"gray"},{"x":1463,"y":624,"y2":648,"kind":"gray"},{"x":1503.8,"y":624,"y2":648,"kind":"green"},{"x":1633.9,"y":624,"y2":648,"kind":"purple"},{"x":1638.7,"y":624,"y2":648,"kind":"purple"},
{"x":1378.9,"y":517,"y2":542,"kind":"gray"},{"x":1430.5,"y":517,"y2":542,"kind":"gray"},{"x":1472.7,"y":517,"y2":542,"kind":"gray"},{"x":1512.6,"y":517,"y2":542,"kind":"green"},{"x":1615.2,"y":517,"y2":542,"kind":"purple"},{"x":1621.8,"y":517,"y2":542,"kind":"purple"},
{"x":1379.2,"y":414,"y2":438,"kind":"gray"},{"x":1440,"y":414,"y2":438,"kind":"gray"},{"x":1458.1,"y":414,"y2":438,"kind":"gray"},{"x":1519.2,"y":414,"y2":438,"kind":"green"},{"x":1612.8,"y":414,"y2":438,"kind":"purple"},{"x":1614.8,"y":414,"y2":438,"kind":"purple"},{"x":1620.6,"y":414,"y2":438,"kind":"purple"},{"x":1623,"y":414,"y2":438,"kind":"purple"},
{"x":1376,"y":308,"y2":334,"kind":"gray"},{"x":1441.9,"y":308,"y2":334,"kind":"gray"},{"x":1457,"y":308,"y2":334,"kind":"gray"},{"x":1523.9,"y":308,"y2":334,"kind":"green"},{"x":1597.3,"y":308,"y2":334,"kind":"purple"},{"x":1612.1,"y":308,"y2":334,"kind":"purple"},{"x":1614.3,"y":308,"y2":334,"kind":"purple"},{"x":1618.1,"y":308,"y2":334,"kind":"purple"},{"x":1651,"y":308,"y2":334,"kind":"purple"},
{"x":1376,"y":200,"y2":227,"kind":"gray"},{"x":1445.9,"y":200,"y2":227,"kind":"gray"},{"x":1462,"y":200,"y2":227,"kind":"gray"},{"x":1533.9,"y":200,"y2":227,"kind":"green"},{"x":1597.3,"y":200,"y2":227,"kind":"purple"},{"x":1608.3,"y":200,"y2":227,"kind":"purple"},{"x":1612.1,"y":200,"y2":227,"kind":"purple"},{"x":1614.9,"y":200,"y2":227,"kind":"purple"},{"x":1641.8,"y":200,"y2":227,"kind":"purple"},{"x":1649.9,"y":200,"y2":227,"kind":"purple"},
{"x":1378.9,"y":97,"y2":123,"kind":"gray"},{"x":1443.8,"y":97,"y2":123,"kind":"gray"},{"x":1480.8,"y":97,"y2":123,"kind":"gray"},{"x":1537.7,"y":97,"y2":123,"kind":"green"},{"x":1603.9,"y":97,"y2":123,"kind":"purple"},{"x":1608.5,"y":97,"y2":123,"kind":"purple"},{"x":1610.6,"y":97,"y2":123,"kind":"purple"},{"x":1614.9,"y":97,"y2":123,"kind":"purple"},{"x":1627.7,"y":97,"y2":123,"kind":"purple"},{"x":1651.8,"y":97,"y2":123,"kind":"purple"},{"x":1671.8,"y":97,"y2":123,"kind":"purple"},
{"x":1377.7,"y":1,"y2":26,"kind":"gray"},{"x":1446.8,"y":1,"y2":26,"kind":"gray"},{"x":1463.8,"y":1,"y2":26,"kind":"gray"},{"x":1548.7,"y":1,"y2":26,"kind":"green"},{"x":1601.3,"y":1,"y2":26,"kind":"purple"},{"x":1604.3,"y":1,"y2":26,"kind":"purple"},{"x":1609.8,"y":1,"y2":26,"kind":"purple"},{"x":1612.9,"y":1,"y2":26,"kind":"purple"},{"x":1623.8,"y":1,"y2":26,"kind":"purple"},{"x":1640.8,"y":1,"y2":26,"kind":"purple"},{"x":1653.9,"y":1,"y2":26,"kind":"purple"},{"x":1666.8,"y":1,"y2":26,"kind":"purple"}
],
"dots": [
{"seg":1,"o":1,"x":1491.8,"y":840},{"seg":1,"o":2,"x":1496.0,"y":790},{"seg":1,"o":3,"x":1501.1,"y":727},{"seg":1,"o":4,"x":1505.3,"y":677},{"seg":1,"o":5,"x":1509.5,"y":627},{"seg":1,"o":6,"x":1514.5,"y":564},{"seg":1,"o":7,"x":1518.3,"y":514},{"seg":1,"o":8,"x":1520.8,"y":475},{"seg":1,"o":9,"x":1522.7,"y":437},
{"seg":2,"o":1,"x":1522.7,"y":323},{"seg":2,"o":2,"x":1530.6,"y":235},{"seg":2,"o":3,"x":1538.3,"y":148},{"seg":2,"o":4,"x":1543.0,"y":86},{"seg":2,"o":5,"x":1546.8,"y":35}
],
"heads": [
{"seg":1,"o":1,"x":1519.0,"y":439},{"seg":1,"o":2,"x":1523.7,"y":414},{"seg":1,"o":3,"x":1527.7,"y":439},
{"seg":2,"o":1,"x":1543.3,"y":42},{"seg":2,"o":2,"x":1547.7,"y":19},{"seg":2,"o":3,"x":1551.1,"y":42}
],
"brace": [
{"o":1,"x":1392.2,"y":935},{"o":2,"x":1392.4,"y":944},{"o":3,"x":1393.1,"y":950},{"o":4,"x":1394.6,"y":953},{"o":5,"x":1436.3,"y":953},{"o":6,"x":1437.7,"y":956},{"o":7,"x":1438.5,"y":965},{"o":8,"x":1438.6,"y":969},{"o":9,"x":1438.7,"y":965},{"o":10,"x":1439.5,"y":956},{"o":11,"x":1440.9,"y":953},{"o":12,"x":1483.1,"y":953},{"o":13,"x":1484.5,"y":950},{"o":14,"x":1485.3,"y":944},{"o":15,"x":1485.5,"y":935}
]
},
"encoding": {
"x": {"field": "x", "type": "quantitative", "scale": {"domain": [1350, 1700], "nice": false, "zero": false},
 "axis": {"values": [1350,1360,1370,1380,1390,1400,1410,1420,1430,1440,1450,1460,1470,1480,1490,1500,1510,1520,1530,1540,1550,1560,1570,1580,1590,1600,1610,1620,1630,1640,1650,1660,1670,1680,1690,1700],
  "format": "d",
  "labelExpr": "datum.value % 50 === 0 ? datum.label : ''",
  "tickSize": {"condition": {"test": "datum.value % 50 === 0", "value": 11}, "value": 6},
  "tickWidth": 2, "tickColor": "black", "domainColor": "black", "domainWidth": 2, "grid": false,
  "labelFont": "Liberation Serif", "labelFontSize": 28, "labelColor": "black", "labelPadding": 5, "labelFlush": false, "labelOverlap": false,
  "title": "Nombre d'ondes (cm⁻¹)", "titleFont": "Liberation Serif", "titleFontSize": 30, "titleFontWeight": "bold", "titleColor": "black", "titlePadding": 0}},
"y": {"field": "y", "type": "quantitative", "scale": {"domain": [0, 1022], "nice": false, "zero": false},
 "axis": {"values": [850,745,640,535,427,325,219,123,23],
  "labelExpr": "'n = ' + indexof([850,745,640,535,427,325,219,123,23], datum.value)",
  "domain": false, "ticks": false, "grid": false, "title": null,
  "labelFont": "Liberation Serif", "labelFontSize": 25, "labelFontWeight": "bold", "labelColor": "#00a000", "labelPadding": 14}}
},
"layer": [
{"data": {"values": [{"x": 1590, "y": 0, "y2": 884}]}, "mark": {"type": "rule", "color": "#f7a1a1", "strokeWidth": 6}, "encoding": {"y2": {"field": "y2"}}},
{"data": {"values": [{"x": 1595, "y": 0, "y2": 884}]}, "mark": {"type": "rule", "color": "#cc9acc", "strokeWidth": 6}, "encoding": {"y2": {"field": "y2"}}},
{"data": {"name": "spec"}, "mark": {"type": "line", "color": "#00a000", "strokeWidth": 3, "strokeJoin": "round"}, "encoding": {"detail": {"field": "n"}}},
{"data": {"name": "sticks"}, "mark": {"type": "bar", "width": 9, "cornerRadiusTopLeft": 4.5, "cornerRadiusTopRight": 4.5},
 "encoding": {"y2": {"field": "y2"}, "color": {"field": "kind", "type": "nominal", "scale": {"domain": ["gray", "green", "purple"], "range": ["#c0c0c0", "#00a000", "#800080"]}, "legend": null}}},
{"data": {"name": "dots"}, "mark": {"type": "line", "color": "black", "strokeWidth": 6.5, "strokeCap": "round", "strokeDash": [0.1, 12.7]},
 "encoding": {"detail": {"field": "seg"}, "order": {"field": "o"}}},
{"data": {"name": "heads"}, "mark": {"type": "line", "color": "black", "strokeWidth": 5, "strokeJoin": "miter", "strokeCap": "butt"},
 "encoding": {"detail": {"field": "seg"}, "order": {"field": "o"}}},
{"data": {"name": "brace"}, "mark": {"type": "line", "color": "black", "strokeWidth": 2}, "encoding": {"order": {"field": "o"}}},
{"data": {"values": [{"x":1436.4,"y":984,"t":"(CO"},{"x":1503.1,"y":945,"t":"(CO"},{"x":1619.6,"y":780,"t":"(H"}]},
 "mark": {"type": "text", "font": "DejaVu Serif", "fontWeight": "bold", "fontSize": 26, "color": "black", "align": "right", "baseline": "alphabetic"}, "encoding": {"text": {"field": "t"}}},
{"data": {"values": [{"x":1440.3,"y":984,"t":")"},{"x":1506.7,"y":945,"t":")"},{"x":1623.2,"y":780,"t":"O)"}]},
 "mark": {"type": "text", "font": "DejaVu Serif", "fontWeight": "bold", "fontSize": 26, "color": "black", "align": "left", "baseline": "alphabetic"}, "encoding": {"text": {"field": "t"}}},
{"data": {"values": [{"x":1438.3,"y":977,"t":"2"},{"x":1438.3,"y":997,"t":"−"},{"x":1504.9,"y":938,"t":"2"},{"x":1504.9,"y":958,"t":"−"},{"x":1621.3,"y":773,"t":"2"}]},
 "mark": {"type": "text", "font": "DejaVu Serif", "fontWeight": "bold", "fontSize": 17, "color": "black", "align": "center", "baseline": "alphabetic"}, "encoding": {"text": {"field": "t"}}},
{"data": {"values": [{"x":1444.6,"y":993,"t":"sym"},{"x":1510.7,"y":962,"t":"anti"},{"x":1635.3,"y":792,"t":"def"}]},
 "mark": {"type": "text", "font": "DejaVu Serif", "fontWeight": "bold", "fontSize": 19, "color": "black", "align": "left", "baseline": "alphabetic"}, "encoding": {"text": {"field": "t"}}},
{"data": {"values": [{"x":1553.1,"y":894,"t":"ν(CO"}]},
 "mark": {"type": "text", "font": "DejaVu Serif", "fontSize": 26, "color": "#c00000", "align": "right", "baseline": "alphabetic"}, "encoding": {"text": {"field": "t"}}},
{"data": {"values": [{"x":1556.4,"y":894,"t":")"}]},
 "mark": {"type": "text", "font": "DejaVu Serif", "fontSize": 26, "color": "#c00000", "align": "left", "baseline": "alphabetic"}, "encoding": {"text": {"field": "t"}}},
{"data": {"values": [{"x":1554.8,"y":887,"t":"2"},{"x":1554.8,"y":909,"t":"−"}]},
 "mark": {"type": "text", "font": "DejaVu Serif", "fontSize": 17, "color": "#c00000", "align": "center", "baseline": "alphabetic"}, "encoding": {"text": {"field": "t"}}},
{"data": {"values": [{"x":1561.3,"y":907,"t":"anti"},{"x":1561.3,"y":886,"t":"acétate"}]},
 "mark": {"type": "text", "font": "DejaVu Serif", "fontSize": 19, "color": "#c00000", "align": "left", "baseline": "alphabetic"}, "encoding": {"text": {"field": "t"}}},
{"data": {"values": [{"x":1602.8,"y":894,"t":"ν("}]},
 "mark": {"type": "text", "font": "DejaVu Serif", "fontSize": 26, "color": "#800080", "align": "right", "baseline": "alphabetic"}, "encoding": {"text": {"field": "t"}}},
{"data": {"values": [{"x":1621.9,"y":894,"t":")"}]},
 "mark": {"type": "text", "font": "DejaVu Serif", "fontSize": 26, "color": "#800080", "align": "left", "baseline": "alphabetic"}, "encoding": {"text": {"field": "t"}}},
{"data": {"values": [{"x":1602.8,"y":894,"t":"H"},{"x":1614.3,"y":894,"t":"O"}]},
 "mark": {"type": "text", "font": "DejaVu Serif", "fontWeight": "bold", "fontSize": 26, "color": "#800080", "align": "left", "baseline": "alphabetic"}, "encoding": {"text": {"field": "t"}}},
{"data": {"values": [{"x":1612.7,"y":887,"t":"2"}]},
 "mark": {"type": "text", "font": "DejaVu Serif", "fontWeight": "bold", "fontSize": 17, "color": "#800080", "align": "center", "baseline": "alphabetic"}, "encoding": {"text": {"field": "t"}}},
{"data": {"values": [{"x":1625.9,"y":907,"t":"def"},{"x":1625.9,"y":886,"t":"isolée"}]},
 "mark": {"type": "text", "font": "DejaVu Serif", "fontSize": 19, "color": "#8e2a8e", "align": "left", "baseline": "alphabetic"}, "encoding": {"text": {"field": "t"}}}
]
}
